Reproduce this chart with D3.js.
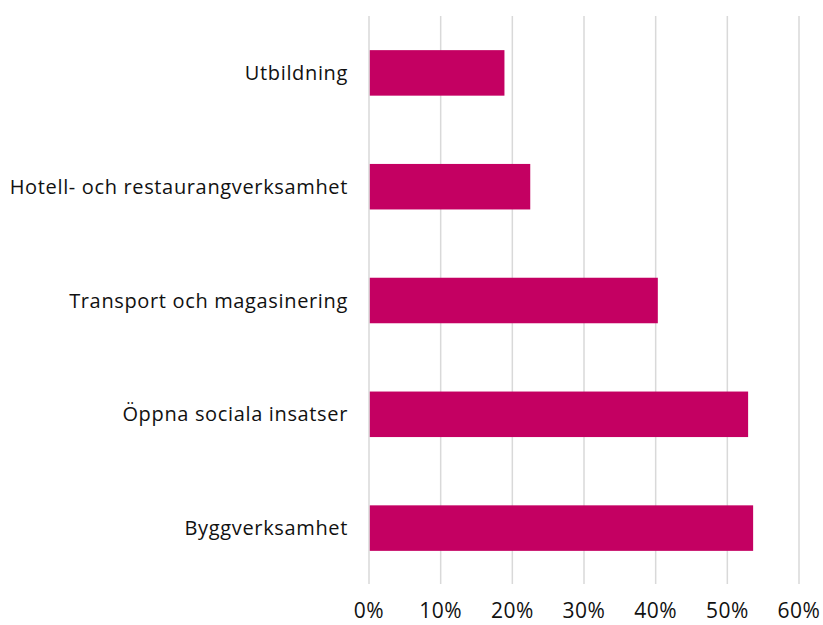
<!DOCTYPE html>
<html><head><meta charset="utf-8">
<script src="https://cdn.jsdelivr.net/npm/d3@7"></script>
<style>body{margin:0;background:#fff}svg{display:block}</style>
</head><body>
<script>
const categories = ["Utbildning","Hotell- och restaurangverksamhet","Transport och magasinering","Öppna sociala insatser","Byggverksamhet"];
const values = [0.189, 0.225, 0.403, 0.529, 0.536];
const ticks = [0,0.1,0.2,0.3,0.4,0.5,0.6];

const W=823,H=625;
const svg=d3.select("body").append("svg").attr("width",W).attr("height",H);
const x=d3.scaleLinear().domain([0,0.6]).range([369,799]);
const y=d3.scaleBand().domain(categories).range([16,585]).paddingInner(0.6).paddingOuter(0.3);
const font="'Open Sans', 'Noto Sans', sans-serif";

svg.append("g").selectAll("line").data(ticks).join("line")
  .attr("x1",d=>x(d)).attr("x2",d=>x(d)).attr("y1",16).attr("y2",584)
  .attr("stroke","#d9d9d9").attr("stroke-width",1.5);

svg.append("g").selectAll("rect").data(values).join("rect")
  .attr("x",x(0)+0.8).attr("y",(d,i)=>y(categories[i]))
  .attr("width",d=>x(d)-x(0)-0.8).attr("height",y.bandwidth())
  .attr("fill","#c40062");

svg.append("g").selectAll("text").data(categories).join("text")
  .attr("x",348).attr("y",d=>y(d)+y.bandwidth()/2).attr("dy","0.35em")
  .attr("text-anchor","end").attr("font-family",font).attr("font-size",20)
  .attr("letter-spacing","0.65px")
  .attr("fill","#111").text(d=>d);

svg.append("g").selectAll("text").data(ticks).join("text")
  .attr("x",d=>x(d)).attr("y",618).attr("text-anchor","middle")
  .attr("font-family",font).attr("font-size",21).attr("letter-spacing","0.5px").attr("fill","#111")
  .text(d3.format(".0%"));
</script>
</body></html>
